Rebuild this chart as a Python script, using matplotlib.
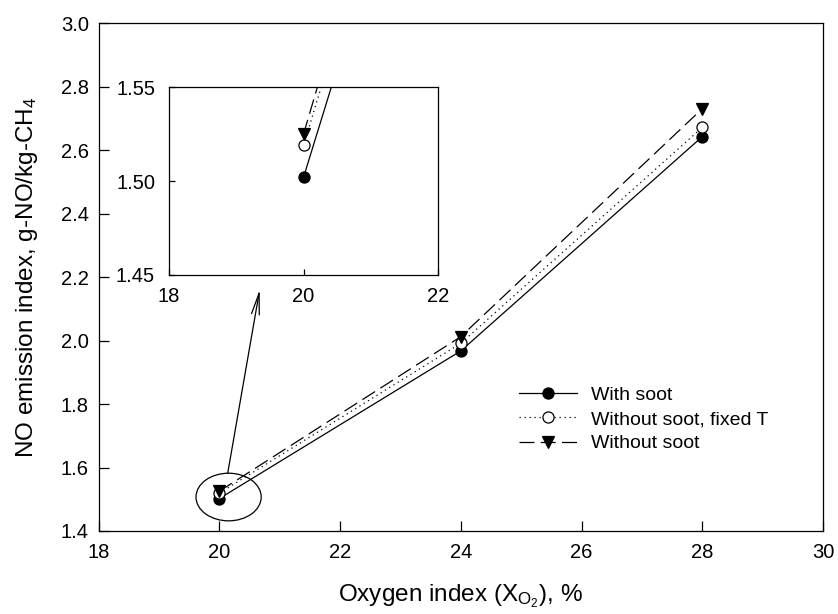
import numpy as np
import matplotlib
matplotlib.use("Agg")
import matplotlib.pyplot as plt
from matplotlib.patches import Ellipse

plt.rcParams.update({
    "font.family": ["Liberation Sans", "DejaVu Sans"],
    "mathtext.fontset": "custom",
    "mathtext.rm": "Liberation Sans",
    "mathtext.it": "Liberation Sans:italic",
    "font.size": 14,
    "axes.linewidth": 0.9,
})

# data
oxygen = [20, 24, 28]
with_soot = [1.502, 1.967, 2.642]
without_soot_fixed_T = [1.519, 1.991, 2.671]
without_soot = [1.525, 2.012, 2.730]

series = [
    (with_soot, "With soot", dict(linestyle="-", marker="o", mfc="black")),
    (without_soot_fixed_T, "Without soot, fixed T", dict(linestyle=(0, (1, 3)), marker="o", mfc="white")),
    (without_soot, "Without soot", dict(linestyle=(0, (12, 5)), marker="v", mfc="black")),
]

fig = plt.figure(figsize=(8.38, 6.14), dpi=100)
ax = fig.add_axes([98.5 / 838, 1 - 531 / 614, 724.5 / 838, 508 / 614])

for y, lab, st in series:
    ax.plot(oxygen, y, color="black", lw=0.9, ms=8, mec="black", mew=0.9, label=lab, **st)

ax.set_xlim(18, 30)
ax.set_ylim(1.4, 3.0)
ax.set_xticks(np.arange(18, 31, 2))
ax.set_yticks(np.arange(1.4, 3.01, 0.2))
ax.yaxis.set_major_formatter(matplotlib.ticker.FormatStrFormatter("%.1f"))
ax.tick_params(direction="in", length=7, width=0.9, labelsize=14.5)
ax.tick_params(axis="x", pad=9)
ax.tick_params(axis="y", pad=7)
ax.set_xlabel(r"Oxygen index (X$_{\mathrm{O_2}}$), %", fontsize=17.5, labelpad=14)
ax.set_ylabel(r"NO emission index, g-NO/kg-CH$_4$", fontsize=17.5, labelpad=15)

# ellipse and arrow pointing to inset
ax.add_patch(Ellipse((20.155, 1.507), 1.08, 0.15, fill=False, ec="black", lw=0.9))
ax.annotate("", xy=(20.67, 2.16), xytext=(20.14, 1.582),
            arrowprops=dict(arrowstyle="->,head_length=1.1,head_width=0.2", color="black", lw=0.9,
                            shrinkA=0, shrinkB=0))

ax.legend(loc="upper left", bbox_to_anchor=(519 / 838, 1 - 386 / 614), bbox_transform=fig.transFigure,
          frameon=False, fontsize=14, handlelength=3.0, handletextpad=0.72, borderpad=0, borderaxespad=0,
          labelspacing=0.35)

# inset zoom
ins = fig.add_axes([169 / 838, 1 - 275 / 614, 269 / 838, 187.7 / 614])
for y, lab, st in series:
    ins.plot(oxygen, y, color="black", lw=0.9, ms=8, mec="black", mew=0.9, **st)
ins.set_xlim(18, 22)
ins.set_ylim(1.45, 1.55)
ins.set_xticks([18, 20, 22])
ins.set_yticks([1.45, 1.50, 1.55])
ins.yaxis.set_major_formatter(matplotlib.ticker.FormatStrFormatter("%.2f"))
ins.tick_params(direction="in", length=4, width=0.9, labelsize=14.5)
ins.tick_params(axis="x", pad=9)
ins.tick_params(axis="y", pad=10)

fig.savefig("out.png", dpi=100)
